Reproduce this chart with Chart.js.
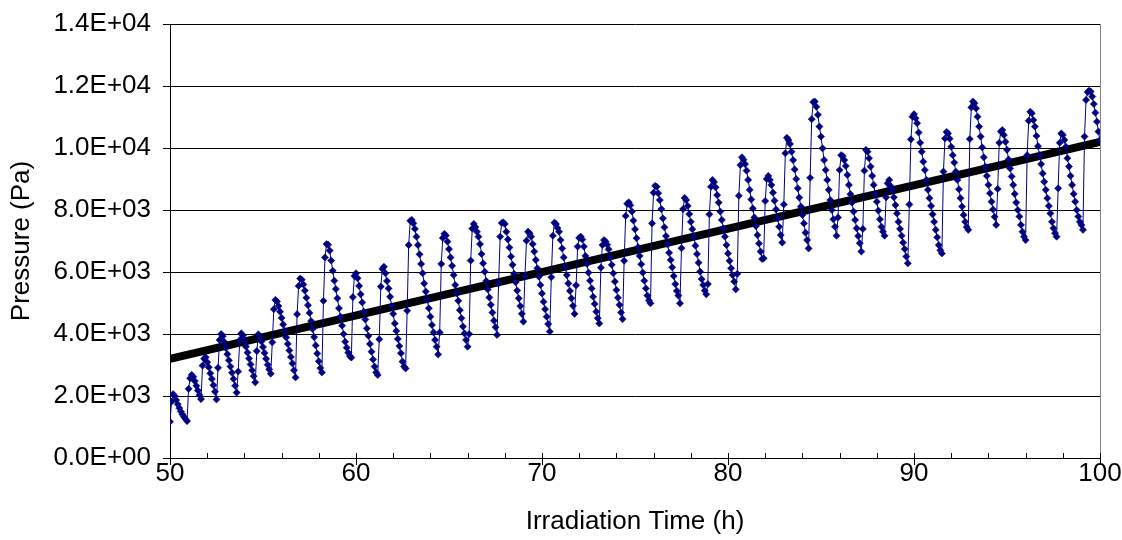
<!DOCTYPE html>
<html><head><meta charset="utf-8">
<script src="https://cdn.jsdelivr.net/npm/chart.js@4/dist/chart.umd.min.js"></script>
<style>html,body{margin:0;padding:0;background:#fff}#wrap{width:1122px;height:540px}</style>
</head><body><div id="wrap"><canvas id="c" width="1122" height="540"></canvas></div>
<script>
// Sampling: one reading every 5 minutes starting at 50 h
const startTime = 50;
const sampleStepH = 5 / 60;

// Pressure readings (Pa), grouped by fill/vent cycle
const cycles = [
  [1170,1820,2060,2000,1870,1730,1610,1500,1410,1330,1260,1190],
  [2230,2570,2680,2620,2480,2330,2180,2030,1900],
  [2980,3200,3250,3090,2930,2730,2550,2350,2140,1890],
  [2910,3810,4000,3930,3750,3550,3350,3150,2950,2750,2550,2330,2110],
  [2790,3800,4020,3950,3780,3590,3400,3210,3020,2830,2640,2440],
  [3450,3990,3920,3760,3580,3390,3200,3010,2860,2720],
  [3730,4800,5100,5050,4900,4720,4520,4310,4100,3890,3680,3470,3260,3050,2830,2600],
  [4640,5550,5790,5750,5600,5400,5170,4930,4680,4420,4160,3900,3630,3370,3120,2900,2760],
  [5070,6470,6900,6880,6690,6370,6040,5720,5450,5150,4830,4560,4270,4000,3750,3560,3400,3290,3240],
  [5190,5870,5960,5800,5550,5280,5020,4720,4470,4180,3940,3680,3430,3180,2950,2760,2680],
  [3830,5530,6100,6170,5960,5710,5470,5200,4900,4650,4340,4100,3840,3610,3380,3110,2950,2890],
  [4750,6870,7650,7680,7570,7390,7140,6870,6570,6260,5960,5630,5370,5100,4830,4560,4290,4050,3810,3590,3340],
  [4050,6260,7100,7230,7180,6980,6740,6470,6200,5900,5580,5310,5070,4770,4510,4240,4020,3810,3590],
  [4000,6370,7400,7550,7450,7300,7140,6900,6580,6280,6010,5710,5440,5180,4940,4690,4430,4220,3970],
  [5630,7140,7580,7600,7550,7300,7050,6790,6500,6230,5940,5670,5400,5150,4900,4650,4400],
  [5870,7010,7300,7250,7140,6900,6660,6390,6120,5850,5580,5310,5040,4800,4560,4320,4080],
  [5830,7170,7590,7550,7420,7300,7030,6760,6470,6170,5900,5630,5390,5150,4910,4650],
  [5570,6820,7100,7140,7050,6820,6520,6260,5980,5720,5470,5200,4970,4720,4510,4340],
  [6140,6870,7030,6980,6880,6730,6460,6230,5960,5690,5420,5170,4940,4690,4480],
  [6360,7810,8200,8250,8150,7950,7660,7380,7090,6800,6520,6250,5980,5720,5470,5240,5080,4990],
  [7570,8560,8780,8750,8540,8320,8030,7730,7440,7160,6890,6620,6390,6150,5870,5610,5390,5240,4990],
  [6770,8030,8390,8320,8130,7870,7620,7380,7140,6850,6580,6300,6010,5770,5580,5400,5280],
  [5610,7860,8750,8970,8900,8730,8480,8240,7950,7680,7410,7140,6870,6600,6360,6120,5900,5690,5440],
  [5940,8460,9450,9700,9620,9480,9270,8970,8650,8340,8050,7760,7480,7190,6920,6660,6420],
  [6440,8290,9000,9100,8970,8810,8560,8300,8020,7730,7460,7190,6950],
  [8180,9830,10330,10260,10130,9880,9610,9310,9000,8700,8400,8110,7840,7570,7270,7030,6760],
  [9040,10930,11480,11500,11330,11070,10690,10370,9990,9610,9290,8970,8650,8320,8000,7700,7460,7170],
  [7760,9290,9770,9740,9610,9420,9130,8810,8510,8240,7950,7680,7410,7160,6930,6660],
  [7390,9270,9940,9880,9670,9400,9100,8810,8520,8270,7980,7700,7460,7300,7170],
  [8410,8860,8970,8770,8650,8410,8160,7890,7620,7390,7170,6950,6740,6500,6280],
  [8180,10280,11010,11090,10960,10800,10500,10170,9880,9560,9290,8970,8650,8380,8130,7860,7620,7360,7120,6870,6700,6600],
  [9240,10310,10520,10470,10300,10040,9770,9530,9240,8970,8670,8380,8110,7840,7620,7450,7360],
  [10290,11310,11500,11440,11280,11010,10690,10370,10020,9700,9400,9100,8810,8540,8270,8020,7780,7520],
  [8680,10170,10530,10580,10420,10200,9940,9630,9340,9080,8810,8520,8240,8000,7790,7520,7300,7140,7030],
  [9770,10880,11170,11120,10900,10690,10390,10060,9770,9480,9180,8910,8650,8380,8130,7890,7620,7410,7250,7140],
  [8700,10170,10470,10420,10260,10040,9670,9400,9100,8810,8520,8270,8000,7790,7620,7520,7360],
  [10370,11550,11800,11850,11820,11660,11420,11140,10850,10530,10260,9650]
];

// Linear trend line end points
const trendTimes = [50, 100];
const trendValues = [3200, 10200];

// Axes
const xMin = 50, xMax = 100, xMajorStep = 10, xMinorStep = 2;
const yMin = 0, yMax = 14000, yStep = 2000;
const xTitle = 'Irradiation Time (h)';
const yTitle = 'Pressure (Pa)';

const pressure = cycles.flat();
const pressurePoints = pressure.map((p, i) => ({ x: startTime + i * sampleStepH, y: p }));
const trendPoints = trendTimes.map((t, i) => ({ x: t, y: trendValues[i] }));

function sci(v) {
  if (v === 0) return '0.0E+00';
  const e = Math.floor(Math.log10(Math.abs(v)) + 1e-9);
  const m = v / Math.pow(10, e);
  return m.toFixed(1) + 'E' + (e < 0 ? '-' : '+') + String(Math.abs(e)).padStart(2, '0');
}

const FAMILY = "'Liberation Sans', Arial, sans-serif";
const FONT = { family: FAMILY, size: 26 };
const YTICK_FONT = { family: FAMILY, size: 26, lineHeight: 0.9 };

const framePlugin = {
  id: 'frame',
  afterDraw(chart) {
    const { ctx, chartArea: a, scales: { x } } = chart;
    ctx.save();
    ctx.lineWidth = 1;
    ctx.strokeStyle = '#808080';
    ctx.beginPath();
    ctx.moveTo(Math.round(a.right) + 0.5, a.top);
    ctx.lineTo(Math.round(a.right) + 0.5, a.bottom);
    ctx.stroke();
    ctx.strokeStyle = '#000';
    ctx.beginPath();
    for (let t = xMin; t <= xMax + 1e-9; t += xMinorStep) {
      const px = Math.round(x.getPixelForValue(t)) + 0.5;
      const major = Math.abs((t - xMin) % xMajorStep) < 1e-6;
      ctx.moveTo(px, a.bottom - 5);
      ctx.lineTo(px, major ? a.bottom + 7 : a.bottom);
    }
    ctx.stroke();
    ctx.restore();
  }
};

new Chart(document.getElementById('c'), {
  type: 'scatter',
  data: {
    datasets: [
      {
        data: pressurePoints,
        showLine: true,
        borderColor: '#000080',
        borderWidth: 1,
        pointStyle: 'rectRot',
        pointRadius: 3.6,
        pointBackgroundColor: '#000080',
        pointBorderColor: '#000080',
        pointBorderWidth: 0.5,
        tension: 0
      },
      {
        data: trendPoints,
        showLine: true,
        borderColor: '#000',
        borderWidth: 8,
        borderCapStyle: 'round',
        pointRadius: 0,
        tension: 0
      }
    ]
  },
  options: {
    responsive: false,
    devicePixelRatio: 1,
    animation: false,
    layout: { padding: { top: 24, right: 22, left: 0, bottom: 0 } },
    plugins: { legend: { display: false }, tooltip: { enabled: false } },
    scales: {
      x: {
        type: 'linear', min: xMin, max: xMax,
        ticks: { stepSize: xMajorStep, color: '#000', font: FONT, padding: 0 },
        grid: { drawOnChartArea: false, drawTicks: false, color: '#000' },
        border: { color: '#000', width: 1 },
        title: { display: true, text: xTitle, color: '#000', font: FONT, padding: { top: 0, bottom: 3 } },
        afterFit(s) { s.height = 82; }
      },
      y: {
        type: 'linear', min: yMin, max: yMax,
        ticks: { stepSize: yStep, color: '#000', font: YTICK_FONT, padding: 12, callback: v => sci(v) },
        grid: { color: '#000', tickLength: 7 },
        border: { color: '#000', width: 1 },
        title: { display: true, text: yTitle, color: '#000', font: FONT, padding: { top: 6, bottom: 4 } },
        afterFit(s) { s.width = 170; }
      }
    }
  },
  plugins: [framePlugin]
});
</script>
</body></html>
